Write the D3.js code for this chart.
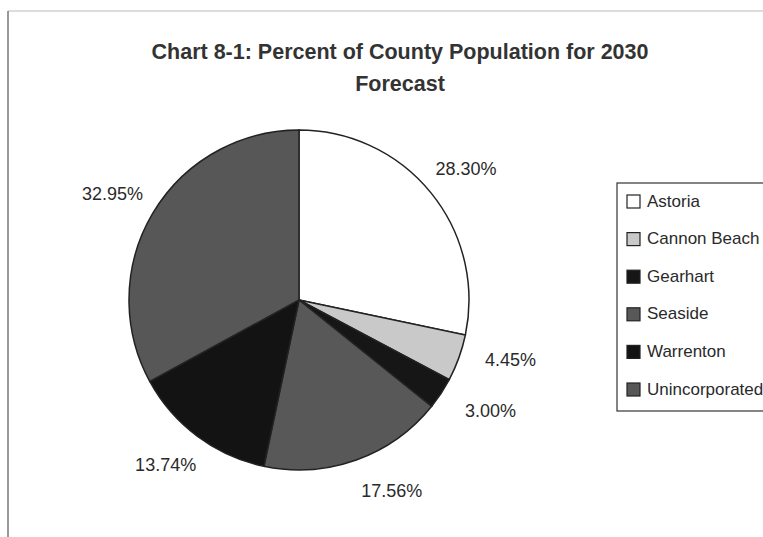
<!DOCTYPE html>
<html><head><meta charset="utf-8">
<script src="https://cdn.jsdelivr.net/npm/d3@7"></script>
<style>
html,body{margin:0;padding:0;background:#fff;}
svg{display:block;}
text{font-family:"Liberation Sans",Arial,sans-serif;}
</style></head>
<body>
<svg id="chart" width="763" height="537"></svg>
<script>
const categories = ["Astoria","Cannon Beach","Gearhart","Seaside","Warrenton","Unincorporated"];
const values = [28.30, 4.45, 3.00, 17.56, 13.74, 32.95];
const labels = ["28.30%","4.45%","3.00%","17.56%","13.74%","32.95%"];
const colors = ["#ffffff","#c9c9c9","#161616","#585858","#131313","#575757"];
const titleLines = ["Chart 8-1: Percent of County Population for 2030","Forecast"];

const svg = d3.select("#chart");
// frame
svg.append("line").attr("x1",8).attr("y1",11).attr("x2",763).attr("y2",11).attr("stroke","#d0d0d0").attr("stroke-width",1.5);
svg.append("line").attr("x1",8).attr("y1",11).attr("x2",8).attr("y2",537).attr("stroke","#777").attr("stroke-width",1.5);

svg.selectAll("text.title").data(titleLines).join("text")
  .attr("class","title")
  .attr("x",400).attr("y",(d,i)=>59+i*32)
  .attr("text-anchor","middle")
  .attr("font-size",21.5).attr("font-weight","bold").attr("fill","#333")
  .text(d=>d);

const cx=299, cy=300, r=170;
const pie = d3.pie().sort(null).value(d=>d)(values);
const arc = d3.arc().innerRadius(0).outerRadius(r);
const g = svg.append("g").attr("transform",`translate(${cx},${cy})`);
g.selectAll("path").data(pie).join("path")
  .attr("d",arc)
  .attr("fill",(d,i)=>colors[i])
  .attr("stroke","#222").attr("stroke-width",1.5);

// labels
const labelArc = d3.arc().innerRadius(r+40).outerRadius(r+40);
const offsets = [[4,1],[14,-11],[16,-4],[22,-7],[-8,-3],[-6,1]];
g.selectAll("text.lbl").data(pie).join("text")
  .attr("class","lbl")
  .attr("transform",(d,i)=>{const c=labelArc.centroid(d);return `translate(${c[0]+offsets[i][0]},${c[1]+offsets[i][1]})`;})
  .attr("text-anchor","middle").attr("dominant-baseline","central")
  .attr("font-size",18).attr("fill","#2a2a2a")
  .text((d,i)=>labels[i]);

// legend
const lg = svg.append("g");
lg.append("rect").attr("x",617).attr("y",183).attr("width",160).attr("height",228)
  .attr("fill","#fff").attr("stroke","#333").attr("stroke-width",1.2);
const rowY = d3.scalePoint().domain(categories).range([201,389]);
const items = lg.selectAll("g.item").data(categories).join("g").attr("class","item")
  .attr("transform",d=>`translate(0,${rowY(d)})`);
items.append("rect").attr("x",627).attr("y",-6).attr("width",13).attr("height",13)
  .attr("fill",(d,i)=>colors[i]).attr("stroke","#222").attr("stroke-width",1.2);
items.append("text").attr("x",647).attr("y",0).attr("dominant-baseline","central")
  .attr("font-size",17).attr("fill","#2a2a2a").text(d=>d);
</script>
</body></html>
